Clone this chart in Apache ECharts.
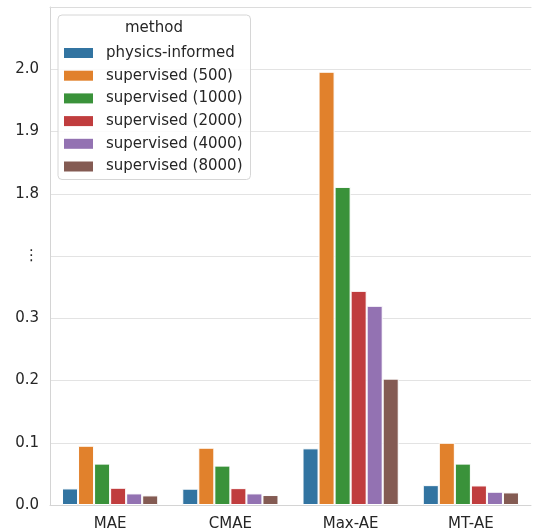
<!DOCTYPE html>
<html>
<head>
<meta charset="utf-8">
<script src="https://cdn.jsdelivr.net/npm/echarts@6/dist/echarts.min.js"></script>
<style>html,body{margin:0;padding:0;background:#fff;}#c{width:533px;height:532px;}</style>
</head>
<body>
<div id="c"></div>
<script>
// ---- data ----
const categories = ['MAE', 'CMAE', 'Max-AE', 'MT-AE'];
const methods = ['physics-informed', 'supervised (500)', 'supervised (1000)', 'supervised (2000)', 'supervised (4000)', 'supervised (8000)'];
const physicsInformed = [0.0266, 0.0262, 0.091, 0.0319];
const supervised500   = [0.0952, 0.0920, 1.996, 0.1000];
const supervised1000  = [0.0665, 0.0633, 1.811, 0.0665];
const supervised2000  = [0.0277, 0.0271, 0.344, 0.0314];
const supervised4000  = [0.0186, 0.0186, 0.320, 0.0213];
const supervised8000  = [0.0154, 0.0160, 0.203, 0.0202];
const yTickLabels = ['0.0', '0.1', '0.2', '0.3', '\u22EE', '1.8', '1.9', '2.0'];
const colors = ['#3274a1', '#e1812c', '#3a923a', '#c03d3e', '#9372b2', '#845b53'];

const seriesValues = [physicsInformed, supervised500, supervised1000, supervised2000, supervised4000, supervised8000];

// broken axis: lower segment 0..0.4, upper segment 1.7..2.1
function brk(v) { return v <= 0.4 ? v * 10 : (v - 1.3) * 10; }

const FONT = 'DejaVu Sans';
const chart = echarts.init(document.getElementById('c'), null, {renderer: 'canvas'});
chart.setOption({
  backgroundColor: '#ffffff',
  animation: false,
  color: colors,
  grid: { left: 50, top: 7, width: 481, height: 499, show: false, containLabel: false },
  xAxis: [{
    type: 'category', data: categories,
    axisLine: { show: true, lineStyle: { color: '#d4d4d4', width: 1 } },
    axisTick: { show: false },
    axisLabel: { color: '#262626', fontFamily: FONT, fontSize: 15, margin: 12 }
  }, {
    type: 'category', data: categories, position: 'top',
    axisLine: { show: true, lineStyle: { color: '#dcdcdc', width: 1 } },
    axisTick: { show: false }, axisLabel: { show: false }, splitLine: { show: false }
  }],
  yAxis: {
    type: 'value', min: 0, max: 8, interval: 1,
    axisLine: { show: true, lineStyle: { color: '#d4d4d4' } },
    axisTick: { show: false },
    splitLine: { show: true, lineStyle: { color: '#e3e3e3', width: 1 } },
    axisLabel: {
      color: '#262626', fontFamily: FONT, fontSize: 15, margin: 11,
      showMaxLabel: false,
      formatter: function (v) { const i = Math.round(v); return yTickLabels[i] !== undefined ? yTickLabels[i] : ''; }
    }
  },
  legend: {
    orient: 'vertical', left: 58, top: 15,
    data: methods,
    icon: 'rect', itemWidth: 29, itemHeight: 10, itemGap: 6.7,
    itemStyle: { borderWidth: 0 },
    padding: [30, 8, 5, 6],
    backgroundColor: 'rgba(255,255,255,0.85)',
    borderColor: '#d6d6d6', borderWidth: 1, borderRadius: 4,
    textStyle: { color: '#262626', fontFamily: FONT, fontSize: 15, lineHeight: 16, padding: [0, 0, 0, 8] }
  },
  graphic: [{
    type: 'text', left: 125, top: 21, z: 100,
    style: { text: 'method', fill: '#262626', font: '15px "DejaVu Sans"' }
  }],
  series: methods.map(function (m, i) {
    return {
      name: m, type: 'bar',
      data: seriesValues[i].map(brk),
      barGap: '0%', barCategoryGap: '20%',
      itemStyle: { color: colors[i], borderColor: '#ffffff', borderWidth: 1 },
      emphasis: { disabled: true }
    };
  })
});
</script>
</body>
</html>
